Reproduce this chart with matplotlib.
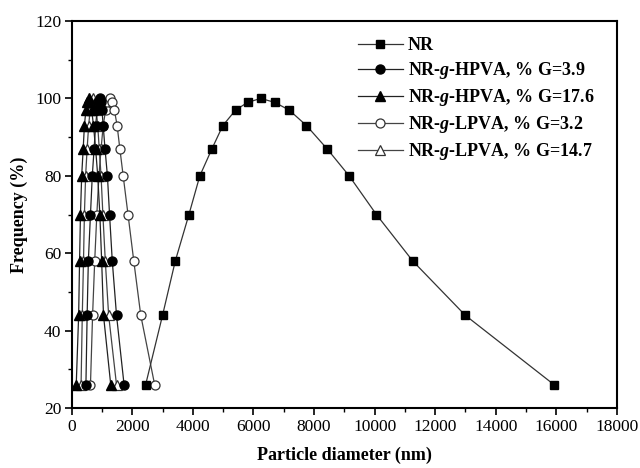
import matplotlib
matplotlib.use("Agg")
import matplotlib.pyplot as plt
from matplotlib.ticker import MultipleLocator

plt.rcParams["font.family"] = ["Liberation Serif", "DejaVu Serif"]
plt.rcParams["mathtext.fontset"] = "custom"
plt.rcParams["mathtext.rm"] = "Liberation Serif"
plt.rcParams["mathtext.it"] = "Liberation Serif:italic"
plt.rcParams["mathtext.bf"] = "Liberation Serif:bold"
plt.rcParams["mathtext.bfit"] = "Liberation Serif:bold:italic"

# Frequency levels shared by every size distribution (%)
freq = [26, 44, 58, 70, 80, 87, 93, 97, 99, 100, 99, 97, 93, 87, 80, 70, 58, 44, 26]

# Particle diameters (nm) for each sample
d_nr = [2440, 3000, 3420, 3870, 4230, 4630, 4990, 5410, 5810, 6240,
        6700, 7180, 7750, 8430, 9160, 10060, 11260, 12990, 15930]
d_hpva_39 = [470, 510, 550, 620, 680, 740, 790, 840, 880, 920,
             960, 1000, 1040, 1100, 1180, 1250, 1340, 1480, 1730]
d_hpva_176 = [150, 230, 260, 290, 330, 380, 420, 470, 520, 560,
              610, 660, 720, 790, 860, 930, 990, 1050, 1290]
d_lpva_32 = [620, 690, 760, 830, 900, 970, 1040, 1120, 1180, 1250,
             1330, 1410, 1500, 1590, 1700, 1860, 2050, 2280, 2740]
d_lpva_147 = [310, 350, 390, 420, 460, 510, 560, 610, 660, 710,
              760, 810, 860, 910, 970, 1030, 1110, 1220, 1480]

labels = [
    "NR",
    r"NR-$\mathbfit{g}$-HPVA, % G=3.9",
    r"NR-$\mathbfit{g}$-HPVA, % G=17.6",
    r"NR-$\mathbfit{g}$-LPVA, % G=3.2",
    r"NR-$\mathbfit{g}$-LPVA, % G=14.7",
]

fig = plt.figure(figsize=(6.4, 4.68), dpi=100)
ax = fig.add_axes([0.112, 0.128, 0.852, 0.827])

lw = 0.9
ax.plot(d_nr, freq, color="#333333", lw=lw, marker="s", ms=6.3,
        mfc="black", mec="black", label=labels[0], zorder=3)
ax.plot(d_hpva_39, freq, color="#222222", lw=lw, marker="o", ms=6.5,
        mfc="black", mec="black", label=labels[1], zorder=4)
ax.plot(d_hpva_176, freq, color="#222222", lw=lw, marker="^", ms=7,
        mfc="black", mec="black", label=labels[2], zorder=5)
ax.plot(d_lpva_32, freq, color="#444444", lw=lw, marker="o", ms=6.5,
        mfc="white", mec="#333333", mew=0.9, label=labels[3], zorder=2)
ax.plot(d_lpva_147, freq, color="#444444", lw=lw, marker="^", ms=7,
        mfc="white", mec="#333333", mew=0.9, label=labels[4], zorder=2)

ax.set_xlim(0, 18000)
ax.set_ylim(20, 120)
ax.xaxis.set_major_locator(MultipleLocator(2000))
ax.xaxis.set_minor_locator(MultipleLocator(1000))
ax.yaxis.set_major_locator(MultipleLocator(20))
ax.yaxis.set_minor_locator(MultipleLocator(10))
ax.tick_params(axis="both", which="major", direction="out", length=5,
               width=1.2, labelsize=12.5, pad=2.5)
ax.tick_params(axis="both", which="minor", direction="out", length=3,
               width=1.0)
for s in ax.spines.values():
    s.set_linewidth(1.5)

ax.set_xlabel("Particle diameter (nm)", fontsize=13, fontweight="bold",
              labelpad=9)
ax.set_ylabel("Frequency (%)", fontsize=13, fontweight="bold", labelpad=5)

leg = ax.legend(loc="upper left", bbox_to_anchor=(0.511, 0.977), frameon=False,
                prop={"size": 13, "weight": "bold"}, handlelength=2.5,
                handletextpad=0.3, labelspacing=0.33, borderaxespad=0.0)

fig.savefig("out.png", dpi=100)
